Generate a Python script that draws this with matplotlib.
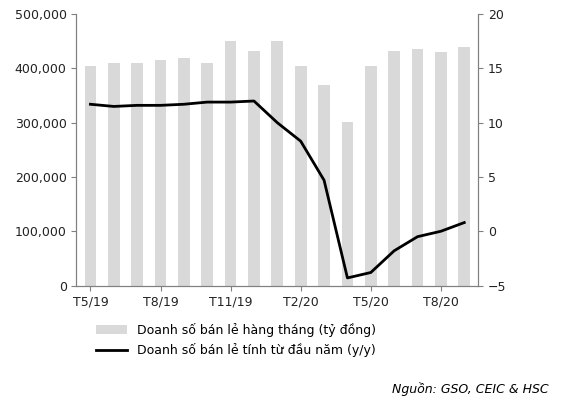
import numpy as np
import matplotlib.pyplot as plt

months = ["T5/19", "T6/19", "T7/19", "T8/19", "T9/19", "T10/19", "T11/19", "T12/19",
          "T1/20", "T2/20", "T3/20", "T4/20", "T5/20", "T6/20", "T7/20", "T8/20", "T9/20"]
retail_monthly = [405000, 410000, 410000, 415000, 420000, 410000, 450000, 432000,
                  450000, 405000, 370000, 302000, 405000, 432000, 435000, 430000, 440000]
retail_ytd = [11.7, 11.5, 11.6, 11.6, 11.7, 11.9, 11.9, 12.0,
              10.0, 8.3, 4.7, -4.3, -3.8, -1.8, -0.5, 0.0, 0.8]

x = np.arange(len(months))
fig = plt.figure(figsize=(5.66, 4.05), dpi=100)
ax = fig.add_axes([0.135, 0.295, 0.71, 0.67])
ax.bar(x, retail_monthly, width=0.5, color="#d9d9d9", label="Doanh số bán lẻ hàng tháng (tỷ đồng)")
ax.set_ylim(0, 500000)
ax.set_yticks(range(0, 500001, 100000))
ax.set_yticklabels([f"{v:,}" for v in range(0, 500001, 100000)])
ax.set_xlim(-0.6, len(months) - 0.4)
ax.set_xticks(x[::3])
ax.set_xticklabels(months[::3])
ax2 = ax.twinx()
ax2.plot(x, retail_ytd, color="black", lw=2, label="Doanh số bán lẻ tính từ đầu năm (y/y)")
ax2.set_ylim(-5, 20)
ax2.set_yticks(range(-5, 21, 5))
for a in (ax, ax2):
    a.tick_params(labelsize=9, direction="out", color="#808080", labelcolor="#222222")
    a.spines["top"].set_visible(False)
    for s in ("left", "right", "bottom"):
        a.spines[s].set_color("#808080")
h1, l1 = ax.get_legend_handles_labels()
h2, l2 = ax2.get_legend_handles_labels()
fig.legend(h1 + h2, l1 + l2, loc="upper left", bbox_to_anchor=(0.15, 0.23),
           frameon=False, fontsize=9, handlelength=2.5)
fig.text(0.97, 0.03, "Nguồn: GSO, CEIC & HSC", ha="right", fontsize=9, style="italic")
fig.savefig("out.png")
